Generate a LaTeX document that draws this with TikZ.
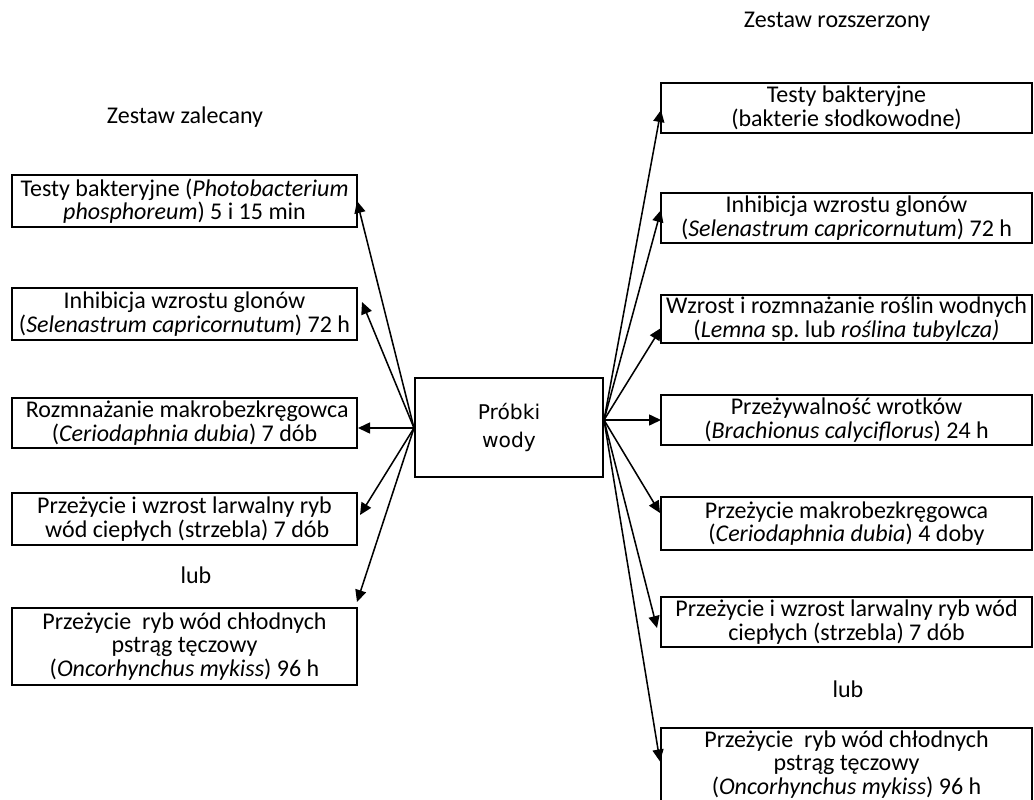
\documentclass[tikz,border=0pt]{standalone}
\usepackage{fontspec}
\setmainfont{Carlito}
\newfontfamily\boxsans{DejaVu Sans}
\usetikzlibrary{arrows.meta}
\newdimen\pxu \pxu=0.75pt
\begin{document}
\begin{tikzpicture}[x=0.75pt,y=-0.75pt,
  every node/.style={inner sep=0pt, outer sep=0pt},
  testbox/.style={draw, line width=1.8pt, rectangle, align=center,
    font=\fontsize{18pt}{17.6pt}\selectfont},
  lbox/.style={testbox, minimum width=345\pxu},
  rbox/.style={testbox, minimum width=371\pxu},
  caption/.style={font=\fontsize{18pt}{17.6pt}\selectfont, anchor=base},
  link/.style={line width=1.15pt, -{Triangle[length=9pt, width=8.25pt]}}
]
\useasboundingbox (0,0) rectangle (1034,799);

% central sample box
\node[draw, line width=1.8pt, minimum width=188\pxu, minimum height=99\pxu,
  align=center, font=\boxsans\fontsize{15.2pt}{21pt}\selectfont]
  (sample) at (509,427.5) {Próbki\\wody};

% set headings
\node[caption] (hl) at (185,123) {Zestaw zalecany};
\node[caption] (hr) at (837,28) {Zestaw rozszerzony};

% recommended set (left column)
\node[lbox, minimum height=52\pxu] (L1) at (184.5,201)
  {Testy bakteryjne (\textit{Photobacterium}\\\textit{phosphoreum}) 5 i 15 min};
\node[lbox, minimum height=52\pxu] (L2) at (184.5,314)
  {Inhibicja wzrostu glonów\\(\textit{Selenastrum capricornutum}) 72 h};
\node[lbox, minimum height=50\pxu] (L3) at (184.5,423)
  {\ Rozmnażanie makrobezkręgowca\\(\textit{Ceriodaphnia dubia}) 7 dób};
\node[lbox, minimum height=52\pxu] (L4) at (184.5,519)
  {Przeżycie i wzrost larwalny ryb\\\ wód ciepłych (strzebla) 7 dób};
\node[caption] (lubL) at (196,583) {lub};
\node[lbox, minimum height=77\pxu] (L5) at (184.5,646.5)
  {Przeżycie\ \ ryb wód chłodnych\\pstrąg tęczowy\\(\textit{Oncorhynchus mykiss}) 96 h};

% extended set (right column)
\node[rbox, minimum height=50\pxu] (R1) at (846.5,108)
  {Testy bakteryjne\\(bakterie słodkowodne)};
\node[rbox, minimum height=50\pxu] (R2) at (846.5,218)
  {Inhibicja wzrostu glonów\\(\textit{Selenastrum capricornutum}) 72 h};
\node[rbox, minimum height=48\pxu] (R3) at (846.5,319)
  {Wzrost i rozmnażanie roślin wodnych\\(\textit{Lemna} sp.\ lub \textit{roślina tubylcza)}};
\node[rbox, minimum height=50\pxu] (R4) at (846.5,420)
  {Przeżywalność wrotków\\(\textit{Brachionus calyciflorus}) 24 h};
\node[rbox, minimum height=53\pxu] (R5) at (846.5,523.5)
  {Przeżycie makrobezkręgowca\\(\textit{Ceriodaphnia dubia}) 4 doby};
\node[rbox, minimum height=50\pxu] (R6) at (846.5,622)
  {Przeżycie i wzrost larwalny ryb wód\\ciepłych (strzebla) 7 dób};
\node[caption] (lubR) at (848,697) {lub};
\node[rbox, minimum height=73\pxu] (R7) at (846.5,764.5)
  {Przeżycie\ \ ryb wód chłodnych\\pstrąg tęczowy\\(\textit{Oncorhynchus mykiss}) 96 h};

% fan-out points on both sides of the sample box
\coordinate (oL) at ([shift={(-1,0.5)}]sample.west);
\coordinate (oR) at ([shift={(1,-7.5)}]sample.east);

% connectors to the recommended tests
\draw[link] (oL) -- (L1.east);
\draw[link] (oL) -- ([shift={(5,-12)}]L2.east);
\draw[link] (oL) -- ([shift={(1,5)}]L3.east);
\draw[link] (oL) -- ([shift={(3,-4)}]L4.east);
\draw[link] (oL) -- ([shift={(0,-6)}]L5.north east);

% connectors to the extended tests
\draw[link] (oR) -- ([shift={(0,2)}]R1.west);
\draw[link] (oR) -- ([shift={(0,-8)}]R2.west);
\draw[link] (oR) -- ([shift={(0,9)}]R3.west);
\draw[link] (oR) -- (R4.west);
\draw[link] (oR) -- ([shift={(-1,-10.5)}]R5.west);
\draw[link] (oR) -- ([shift={(-4,6)}]R6.west);
\draw[link] (oR) -- ([shift={(-1,-3)}]R7.west);
\end{tikzpicture}
\end{document}
